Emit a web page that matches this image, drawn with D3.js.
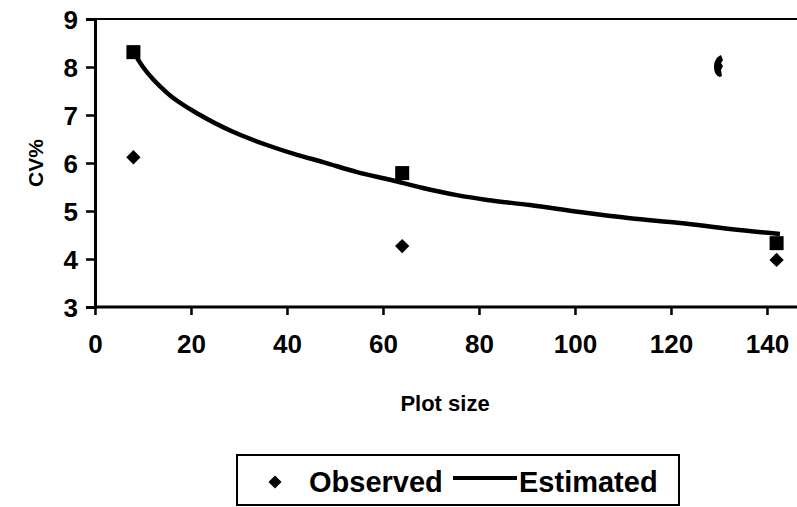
<!DOCTYPE html>
<html><head><meta charset="utf-8">
<script src="https://cdn.jsdelivr.net/npm/d3@7"></script>
<style>body{margin:0;background:#fff}svg{display:block}text{font-family:"Liberation Sans",Arial,sans-serif;fill:#000}</style>
</head><body>
<svg id="c" width="797" height="507"></svg>
<script>
// data
const xTicks = [0, 20, 40, 60, 80, 100, 120, 140];
const yTicks = [3, 4, 5, 6, 7, 8, 9];
const obsX = [8, 64, 142];
const obsY = [6.12, 4.27, 3.98];
const estPointX = [8, 64, 142];
const estPointY = [8.31, 5.79, 4.33];
const curveX = [8, 10, 15, 21.9, 28.75, 35.8, 42.1, 47.5, 54.6, 61.5, 68.3, 75.4, 81.7, 90.6, 101, 111.5, 121.9, 132.3, 142.7];
const curveY = [8.31, 8.0, 7.46, 7.0, 6.65, 6.375, 6.17, 6.02, 5.81, 5.65, 5.48, 5.33, 5.23, 5.125, 4.98, 4.85, 4.75, 4.625, 4.52];
const strayX = [130];
const strayY = [8.02];

const svg = d3.select("#c");
const x = d3.scaleLinear().domain([0, 160]).range([95, 863]);
const y = d3.scaleLinear().domain([3, 9]).range([307, 19]);

// top border
svg.append("line").attr("x1", x(0)).attr("x2", 797).attr("y1", y(9)).attr("y2", y(9))
  .attr("stroke", "#000").attr("stroke-width", 2);

const xa = svg.append("g").attr("transform", `translate(0,${y(3)})`)
  .call(d3.axisBottom(x).tickValues(xTicks).tickSize(8).tickPadding(20).tickFormat(d3.format("d")));
const ya = svg.append("g").attr("transform", `translate(${x(0)},0)`)
  .call(d3.axisLeft(y).tickValues(yTicks).tickSize(9).tickPadding(8).tickFormat(d3.format("d")));
[xa, ya].forEach(g => {
  g.select(".domain").attr("stroke", "#000").attr("stroke-width", 3);
  g.selectAll(".tick line").attr("stroke", "#000").attr("stroke-width", 2.5);
  g.selectAll(".tick text").attr("font-size", 26).attr("font-weight", "bold")
    .attr("font-family", "Liberation Sans, Arial, sans-serif").attr("fill", "#000");
});
xa.select(".domain").attr("d", `M${x(0)},0H797`);
ya.selectAll(".tick text").attr("dy", "0.36em");

// axis titles
svg.append("text").attr("x", 445).attr("y", 411).attr("text-anchor", "middle")
  .attr("font-size", 22).attr("font-weight", "bold").text("Plot size");
svg.append("text").attr("transform", `translate(43,${y(6)}) rotate(-90)`).attr("text-anchor", "middle")
  .attr("font-size", 21).attr("font-weight", "bold").text("CV%");

// curve
const curve = d3.range(curveX.length).map(i => [curveX[i], curveY[i]]);
svg.append("path").datum(curve)
  .attr("d", d3.line().x(d => x(d[0])).y(d => y(d[1])).curve(d3.curveMonotoneX))
  .attr("fill", "none").attr("stroke", "#000").attr("stroke-width", 4.5);

// estimated squares
svg.selectAll("rect.est").data(d3.range(estPointX.length)).join("rect")
  .attr("x", i => x(estPointX[i]) - 7).attr("y", i => y(estPointY[i]) - 7)
  .attr("width", 14).attr("height", 14).attr("fill", "#000");

// observed diamonds
const diamond = d3.symbol().type(d3.symbolDiamond2).size(130);
svg.selectAll("path.obs").data(d3.range(obsX.length)).join("path")
  .attr("transform", i => `translate(${x(obsX[i])},${y(obsY[i])})`)
  .attr("d", diamond).attr("fill", "#000");

// stray mark
svg.selectAll("path.stray").data(d3.range(strayX.length)).join("path")
  .attr("transform", i => `translate(${x(strayX[i])},${y(strayY[i])})`)
  .attr("d", "M2,-11 C-3,-9 -5,-4 -5,1 C-5,6 -3,10 1,11 L3,10 L2,4 L4,0 L2,-3 L4,-6 Z")
  .attr("fill", "#000");

// legend
const lg = svg.append("g");
lg.append("rect").attr("x", 237).attr("y", 455).attr("width", 442).attr("height", 50)
  .attr("fill", "none").attr("stroke", "#000").attr("stroke-width", 2);
lg.append("path").attr("transform", "translate(275,482)").attr("d", d3.symbol().type(d3.symbolDiamond2).size(110)).attr("fill", "#000");
lg.append("text").attr("x", 309).attr("y", 492).attr("font-size", 29).attr("font-weight", "bold").text("Observed");
lg.append("line").attr("x1", 453).attr("x2", 517).attr("y1", 478).attr("y2", 478).attr("stroke", "#000").attr("stroke-width", 4);
lg.append("text").attr("x", 519).attr("y", 492).attr("font-size", 29).attr("font-weight", "bold").text("Estimated");
</script>
</body></html>
